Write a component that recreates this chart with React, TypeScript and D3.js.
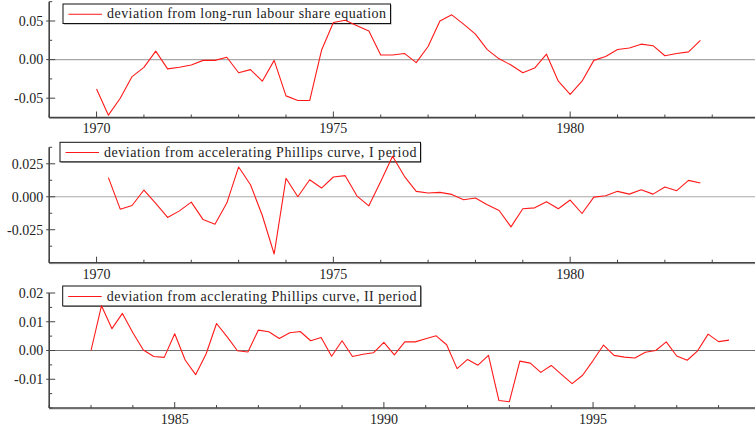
import React from "react";
import * as d3 from "d3";

// ---- data (quarterly observations) ----
const labourShareStart = 1970.0;
const labourShare = [
  -0.038, -0.072, -0.050, -0.022, -0.010, 0.011, -0.012, -0.010, -0.007, -0.001,
  -0.001, 0.003, -0.017, -0.013, -0.028, -0.001, -0.047, -0.053, -0.053, 0.012,
  0.048, 0.051, 0.044, 0.037, 0.006, 0.006, 0.008, -0.004, 0.017, 0.050,
  0.058, 0.046, 0.033, 0.013, 0.001, -0.007, -0.017, -0.011, 0.007, -0.028,
  -0.045, -0.028, -0.001, 0.004, 0.013, 0.015, 0.020, 0.018, 0.005, 0.008,
  0.010, 0.025,
];

const phillipsIStart = 1970.25;
const phillipsI = [
  0.0145, -0.0094, -0.0066, 0.0051, -0.0051, -0.0157, -0.0107, -0.0041, -0.0173, -0.0208,
  -0.0048, 0.0226, 0.0091, -0.0142, -0.0434, 0.0140, 0.0000, 0.0129, 0.0066, 0.0150,
  0.0160, 0.0005, -0.0069, 0.0115, 0.0307, 0.0155, 0.0041, 0.0028, 0.0033, 0.0018,
  -0.0023, -0.0010, -0.0061, -0.0104, -0.0228, -0.0091, -0.0084, -0.0038, -0.0091, -0.0025,
  -0.0127, -0.0003, 0.0008, 0.0041, 0.0020, 0.0053, 0.0020, 0.0074, 0.0046, 0.0124,
  0.0104,
];

const phillipsIIStart = 1983.0;
const phillipsII = [
  0.0000, 0.0156, 0.0076, 0.0129, 0.0062, 0.0002, -0.0021, -0.0024, 0.0058, -0.0033,
  -0.0084, -0.0012, 0.0094, 0.0048, -0.0001, -0.0005, 0.0071, 0.0065, 0.0042, 0.0062,
  0.0066, 0.0034, 0.0045, -0.0020, 0.0034, -0.0021, -0.0013, -0.0008, 0.0028, -0.0015,
  0.0030, 0.0030, 0.0041, 0.0051, 0.0020, -0.0063, -0.0031, -0.0051, -0.0017, -0.0174,
  -0.0178, -0.0037, -0.0044, -0.0076, -0.0052, -0.0084, -0.0115, -0.0086, -0.0035, 0.0019,
  -0.0017, -0.0023, -0.0026, -0.0006, 0.0000, 0.0030, -0.0019, -0.0034, -0.0001, 0.0057,
  0.0031, 0.0036,
];

const legendLabels = [
  "deviation from long-run labour share equation",
  "deviation from accelerating Phillips curve, I period",
  "deviation from acclerating Phillips curve, II period",
];

const yTickLabels1 = ["-0.05", "0.00", "0.05"];
const yTickLabels2 = ["-0.025", "0.000", "0.025"];
const yTickLabels3 = ["-0.01", "0.00", "0.01", "0.02"];
const xTickLabels1 = ["1970", "1975", "1980"];
const xTickLabels3 = ["1985", "1990", "1995"];

const W = 755;
const H = 429;

type PanelProps = {
  values: number[];
  start: number;
  xDomain: [number, number];
  xRange: [number, number];
  yDomain: [number, number];
  yRange: [number, number];
  yMinorStep: number;
  yLabels: string[];
  xLabels: string[];
  legend: string;
  legendBox: { x: number; y: number; w: number; h: number; textEnd: number };
  zeroColor: string;
  xLabelBaseline: number;
};

function Panel(p: PanelProps) {
  const x = d3.scaleLinear().domain(p.xDomain).range(p.xRange);
  const y = d3.scaleLinear().domain(p.yDomain).range(p.yRange);
  const pts = p.values.map((v, i) => [p.start + i * 0.25, v] as [number, number]);
  const line = d3
    .line<[number, number]>()
    .x((d) => x(d[0]))
    .y((d) => y(d[1]));
  const axisX = p.xRange[0];
  const axisY = p.yRange[0];
  const rightEdge = W;

  const yMinor: number[] = [];
  const nSteps = Math.round((p.yDomain[1] - p.yDomain[0]) / p.yMinorStep);
  for (let i = 0; i <= nSteps; i++) yMinor.push(p.yDomain[0] + i * p.yMinorStep);
  const labelVals = p.yLabels.map((s) => +s);

  const years = d3.range(Math.ceil(p.xDomain[0]), Math.floor(p.xDomain[1]) + 1);
  const xLabelVals = p.xLabels.map((s) => +s);
  const lb = p.legendBox;

  return (
    <g>
      {/* zero line */}
      <line x1={axisX} x2={rightEdge} y1={y(0)} y2={y(0)} stroke={p.zeroColor} strokeWidth={1.2} />
      {/* legend */}
      <rect x={lb.x + 1} y={lb.y + 1} width={lb.w} height={lb.h} fill="#999" />
      <rect x={lb.x} y={lb.y} width={lb.w} height={lb.h} fill="#fff" stroke="#111" strokeWidth={1} />
      <line x1={lb.x + 5.5} x2={lb.x + 39} y1={lb.y + lb.h / 2 + 0.5} y2={lb.y + lb.h / 2 + 0.5} stroke="#ff1a1a" strokeWidth={1.1} />
      <text
        className="serif"
        x={lb.x + 44}
        y={lb.y + lb.h / 2 + 4.5}
        fontSize={14}
        fill="#222"
        textLength={lb.textEnd - (lb.x + 44)}
        lengthAdjust="spacing"
      >
        {p.legend}
      </text>
      {/* series */}
      <path d={line(pts) || ""} fill="none" stroke="#ff1a1a" strokeWidth={1.1} strokeLinejoin="round" />
      {/* x axis */}
      <line x1={axisX} x2={rightEdge} y1={axisY + 1} y2={axisY + 1} stroke="#bbb" strokeWidth={1} />
      <line x1={axisX} x2={rightEdge} y1={axisY} y2={axisY} stroke="#444" strokeWidth={1.4} />
      {years.map((yr) => {
        const major = yr % 5 === 0;
        return (
          <line key={"xt" + yr} x1={x(yr)} x2={x(yr)} y1={axisY} y2={axisY - (major ? 6 : 3)} stroke="#444" strokeWidth={1} />
        );
      })}
      {xLabelVals.map((v, i) => (
        <text className="serif" key={"xl" + i} x={x(v)} y={p.xLabelBaseline} textAnchor="middle" fontSize={14} fill="#222">
          {p.xLabels[i]}
        </text>
      ))}
      {/* y axis */}
      <line x1={axisX} x2={axisX} y1={p.yRange[1]} y2={axisY} stroke="#444" strokeWidth={1.6} />
      {yMinor.map((v, i) => {
        const major = labelVals.some((l) => Math.abs(l - v) < 1e-9);
        return (
          <line key={"yt" + i} x1={major ? axisX - 3 : axisX} x2={axisX + (major ? 6 : 3)} y1={y(v)} y2={y(v)} stroke="#444" strokeWidth={1} />
        );
      })}
      {labelVals.map((v, i) => (
        <text className="serif" key={"yl" + i} x={axisX - 6} y={y(v) + 4.8} textAnchor="end" fontSize={14} fill="#222">
          {p.yLabels[i]}
        </text>
      ))}
    </g>
  );
}

export default function App() {
  return (
    <svg
      width={W}
      height={H}
      fontFamily="Liberation Serif"
      style={{ position: "absolute", left: 0, top: 0, background: "#fff", fontFamily: '"Liberation Serif"' }}
    >
      <style>{`text.serif { font-family: "Liberation Serif" !important; }`}</style>
      <rect x={0} y={0} width={W} height={H} fill="#fff" />
      <Panel
        values={labourShare}
        start={labourShareStart}
        xDomain={[1969, 1984]}
        xRange={[49.2, 759.6]}
        yDomain={[-0.075, 0.075]}
        yRange={[117.5, 1.7]}
        yMinorStep={0.025}
        yLabels={yTickLabels1}
        xLabels={xTickLabels1}
        legend={legendLabels[0]}
        legendBox={{ x: 63, y: 4, w: 327.5, h: 19.5, textEnd: 386 }}
        zeroColor="#a8a8a8"
        xLabelBaseline={133}
      />
      <Panel
        values={phillipsI}
        start={phillipsIStart}
        xDomain={[1969, 1984]}
        xRange={[49.2, 759.6]}
        yDomain={[-0.05, 0.0375]}
        yRange={[262.7, 147.3]}
        yMinorStep={0.0125}
        yLabels={yTickLabels2}
        xLabels={xTickLabels1}
        legend={legendLabels[1]}
        legendBox={{ x: 60, y: 142.3, w: 360.5, h: 19.5, textEnd: 416.5 }}
        zeroColor="#a8a8a8"
        xLabelBaseline={278.5}
      />
      <Panel
        values={phillipsII}
        start={phillipsIIStart}
        xDomain={[1982, 1999]}
        xRange={[49.2, 760.4]}
        yDomain={[-0.02, 0.02]}
        yRange={[408, 293]}
        yMinorStep={0.005}
        yLabels={yTickLabels3}
        xLabels={xTickLabels3}
        legend={legendLabels[2]}
        legendBox={{ x: 62.7, y: 286, w: 358, h: 20, textEnd: 416.5 }}
        zeroColor="#707070"
        xLabelBaseline={424}
      />
    </svg>
  );
}
